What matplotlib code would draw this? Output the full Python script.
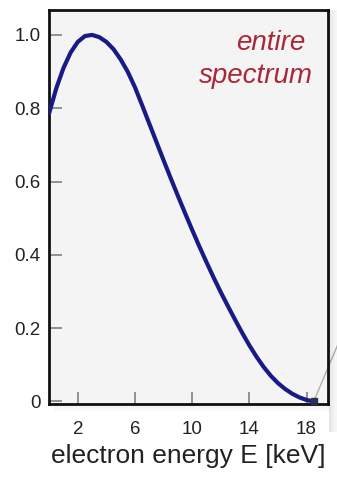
import matplotlib
matplotlib.use("Agg")
import matplotlib.pyplot as plt
from matplotlib.patches import Rectangle

plt.rcParams['font.family'] = ['Liberation Sans', 'DejaVu Sans']

energy = [0, 0.5, 1, 1.5, 2, 2.5, 3, 3.5, 4, 4.5, 5, 5.5, 6, 6.5, 7, 7.5, 8, 8.5,
          9, 9.5, 10, 10.5, 11, 11.5, 12, 12.5, 13, 13.5, 14, 14.5, 15, 15.5,
          16, 16.5, 17, 17.5, 18, 18.5]
rate = [0.787, 0.855, 0.910, 0.952, 0.981, 0.997, 1.000, 0.994, 0.981, 0.961,
        0.933, 0.899, 0.857, 0.808, 0.758, 0.708, 0.658, 0.609, 0.561, 0.514,
        0.468, 0.423, 0.380, 0.338, 0.298, 0.260, 0.223, 0.187, 0.153, 0.122,
        0.094, 0.070, 0.050, 0.034, 0.021, 0.011, 0.004, 0.0]
xticks = [2, 6, 10, 14, 18]
yticks = [0, 0.2, 0.4, 0.6, 0.8, 1.0]
ytick_labels = ['0', '0.2', '0.4', '0.6', '0.8', '1.0']

W, H = 337, 491
fig = plt.figure(figsize=(W / 100, H / 100), dpi=100)

# soft shadow at the right and bottom of the plot frame
for i, a in enumerate([0.10, 0.07, 0.05, 0.03]):
    fig.patches.append(Rectangle(((329 + 2 * i) / W, 0.12), 2 / W, 0.86,
                                 transform=fig.transFigure, color='black',
                                 alpha=a, lw=0, zorder=0))
    fig.patches.append(Rectangle((0.16, (86 - 2 * i) / H), 0.82, 2 / H,
                                 transform=fig.transFigure, color='black',
                                 alpha=a * 0.7, lw=0, zorder=0))

ax = fig.add_axes([49.2 / W, 1 - 404 / H, (328 - 49.2) / W, 394 / H])
ax.set_facecolor('#f4f4f4')
ax.plot(energy, rate, color='#1a1a85', lw=3, solid_capstyle='round',
        solid_joinstyle='round', zorder=3)
ax.plot([energy[-1]], [rate[-1]], marker='s', ms=5, mfc='#2a2a80', mec='#333333',
        mew=1, clip_on=False, zorder=4)
ax.plot([energy[-1], 21.0], [rate[-1], 0.23], color='#b0b0b0', lw=1,
        clip_on=False, zorder=2)

ax.set_xlim(0, 19.5)
ax.set_ylim(-0.007, 1.068)
ax.set_xticks(xticks)
ax.set_yticks(yticks)
ax.set_yticklabels(ytick_labels)
ax.tick_params(axis='both', direction='in', length=9, width=1.2, color='#808080',
               labelsize=13.5, labelcolor='#222222')
ax.tick_params(axis='x', pad=12)
ax.tick_params(axis='y', pad=6)
for s in ax.spines.values():
    s.set_linewidth(2)
    s.set_color('#111111')

fig.text(305 / W, 1 - 50 / H, 'entire', ha='right', va='baseline', fontsize=20,
         style='italic', color='#a8283a')
fig.text(313 / W, 1 - 83 / H, 'spectrum', ha='right', va='baseline', fontsize=20,
         style='italic', color='#a8283a')
fig.text(188 / W, 1 - 463 / H, 'electron energy E [keV]', ha='center',
         va='baseline', fontsize=19, color='#222222')

fig.savefig('out.png', dpi=100)
